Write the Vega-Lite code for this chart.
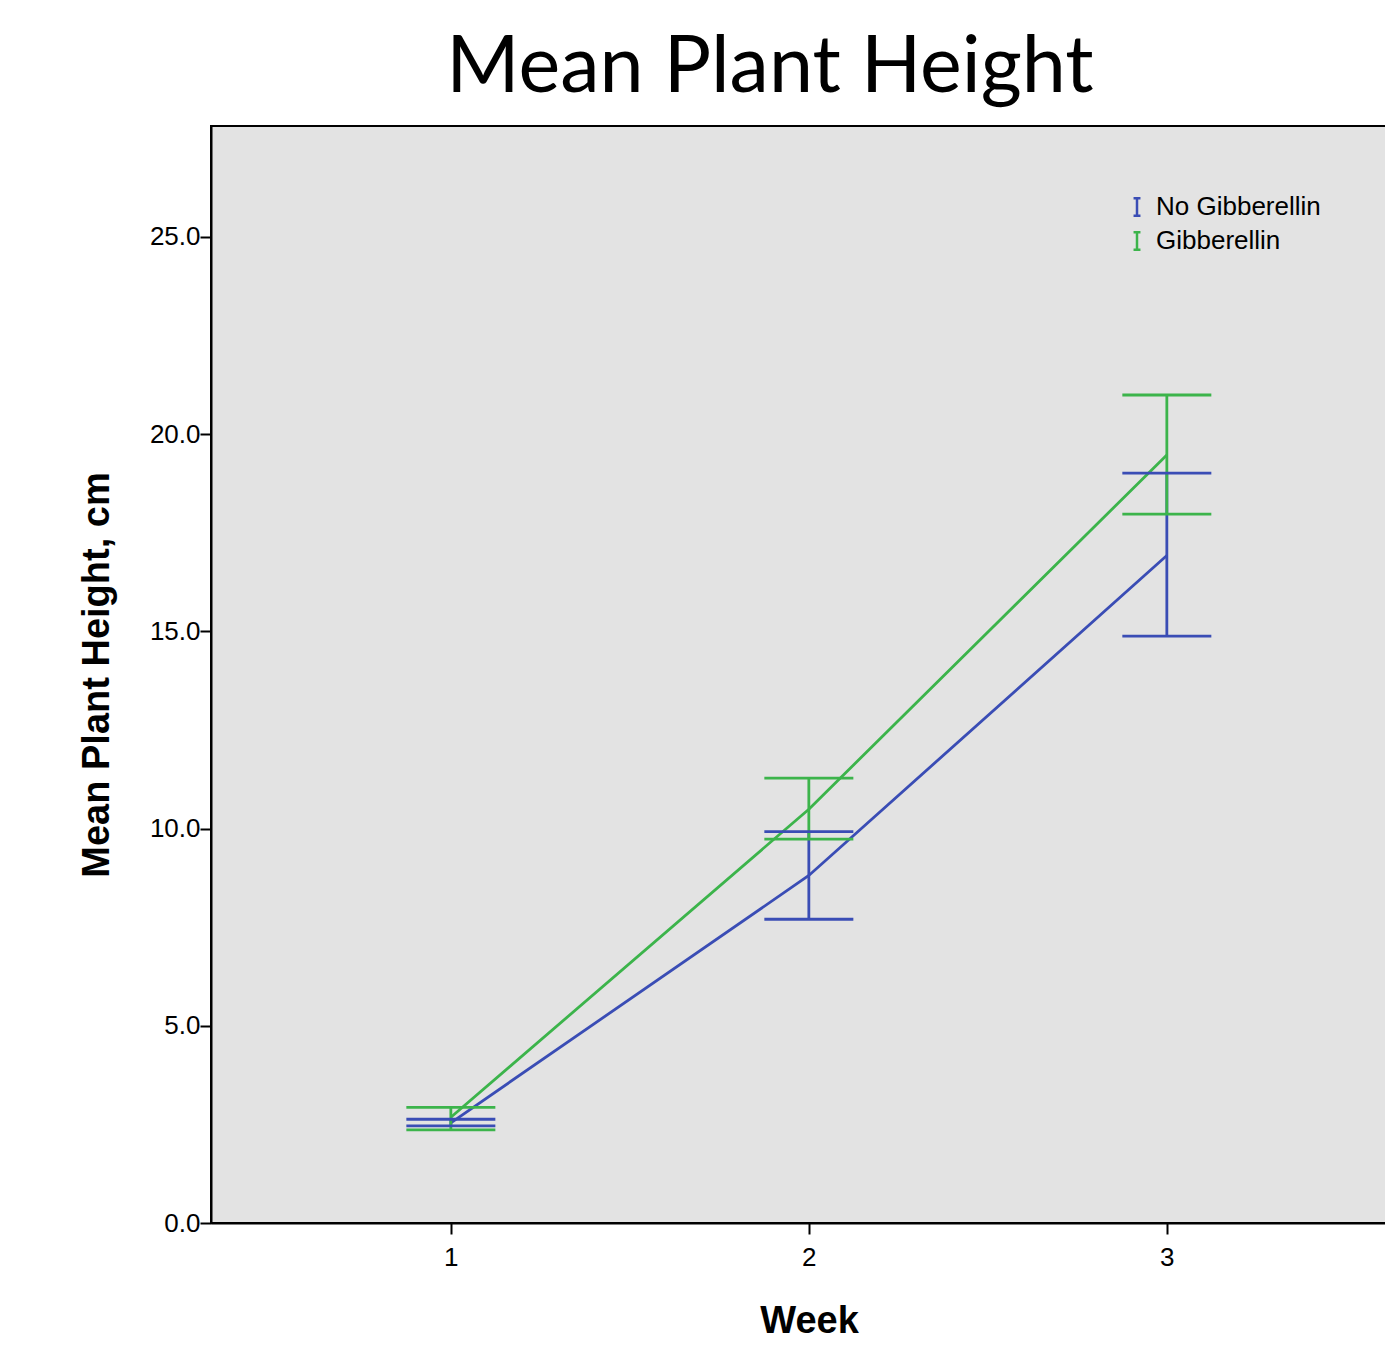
{
  "$schema": "https://vega.github.io/schema/vega-lite/v6.json",
  "autosize": {"type": "none"},
  "width": 1176,
  "height": 1097,
  "padding": {"left": 211, "top": 126, "right": 0, "bottom": 134},
  "background": "white",
  "title": {
    "text": "Mean Plant Height",
    "font": "Lato",
    "fontSize": 79,
    "fontWeight": "normal",
    "color": "black",
    "anchor": "middle",
    "dx": -29,
    "dy": 77,
    "baseline": "alphabetic",
    "offset": 32
  },
  "config": {
    "view": {"fill": "#e3e3e3", "stroke": "black", "strokeWidth": 2},
    "axis": {
      "labelFont": "Liberation Sans",
      "labelFontSize": 26,
      "labelColor": "black",
      "titleFont": "Liberation Sans",
      "titleFontSize": 38,
      "titleFontWeight": "bold",
      "titleColor": "black",
      "domainColor": "black",
      "domainWidth": 2,
      "tickColor": "black",
      "tickWidth": 2,
      "tickSize": 11,
      "grid": false
    }
  },
  "data": {
    "values": [
      {"week": 1, "group": "No Gibberellin", "mean": 2.54, "lo": 2.46, "hi": 2.63},
      {"week": 2, "group": "No Gibberellin", "mean": 8.81, "lo": 7.70, "hi": 9.92},
      {"week": 3, "group": "No Gibberellin", "mean": 16.92, "lo": 14.88, "hi": 19.01},
      {"week": 1, "group": "Gibberellin", "mean": 2.68, "lo": 2.36, "hi": 2.93},
      {"week": 2, "group": "Gibberellin", "mean": 10.49, "lo": 9.73, "hi": 11.28},
      {"week": 3, "group": "Gibberellin", "mean": 19.47, "lo": 17.97, "hi": 20.99}
    ]
  },
  "encoding": {
    "x": {
      "field": "week",
      "type": "quantitative",
      "scale": {"domain": [0.33, 3.615], "nice": false, "zero": false},
      "axis": {"values": [1, 2, 3], "format": "d", "title": "Week", "titlePadding": 32, "labelPadding": 10, "titleX": 598}
    },
    "color": {
      "field": "group",
      "type": "nominal",
      "scale": {"domain": ["No Gibberellin", "Gibberellin"], "range": ["#3a4db5", "#3cb44b"]},
      "legend": {
        "title": null,
        "orient": "none",
        "legendX": 913,
        "legendY": 68,
        "symbolType": "M-0.4,-1H0.4M0,-1V1M-0.4,1H0.4",
        "symbolSize": 300,
        "symbolStrokeWidth": 2.5,
        "symbolOpacity": 1,
        "labelFont": "Liberation Sans",
        "labelFontSize": 26,
        "labelColor": "black",
        "labelLimit": 400,
        "rowPadding": 6,
        "labelOffset": 6
      }
    }
  },
  "layer": [
    {
      "mark": {"type": "line", "strokeWidth": 2.8},
      "encoding": {
        "y": {
          "field": "mean",
          "type": "quantitative",
          "scale": {"domain": [0, 27.81], "nice": false},
          "axis": {"values": [0, 5, 10, 15, 20, 25], "format": ".1f", "title": "Mean Plant Height, cm", "titlePadding": 33, "labelPadding": 0}
        }
      }
    },
    {
      "mark": {"type": "rule", "strokeWidth": 2.8, "opacity": 1},
      "encoding": {"y": {"field": "lo", "type": "quantitative"}, "y2": {"field": "hi"}}
    },
    {
      "mark": {"type": "tick", "orient": "horizontal", "size": 89, "thickness": 2.8, "opacity": 1},
      "encoding": {"y": {"field": "lo", "type": "quantitative"}}
    },
    {
      "mark": {"type": "tick", "orient": "horizontal", "size": 89, "thickness": 2.8, "opacity": 1},
      "encoding": {"y": {"field": "hi", "type": "quantitative"}}
    }
  ]
}
